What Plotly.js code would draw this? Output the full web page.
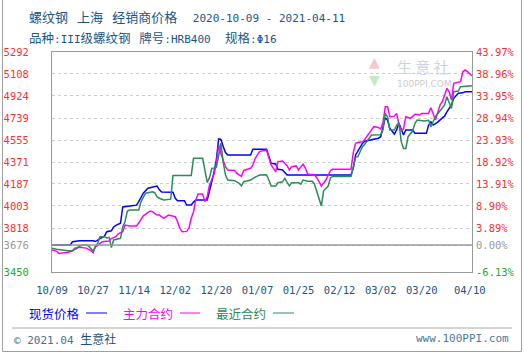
<!DOCTYPE html>
<html><head><meta charset="utf-8">
<script src="https://cdn.plot.ly/plotly-3.0.1.min.js"></script>
<style>html,body{margin:0;padding:0;background:#fff;}#chart{width:524px;height:354px;}</style>
</head><body><div id="chart"></div>
<script>
// ---------- data ----------
const basePrice = 3676;
const priceTicks = [3450, 3676, 3818, 4003, 4187, 4371, 4555, 4739, 4924, 5108, 5292];
const pctLabels = ['-6.13%', '0.00%', '3.89%', '8.90%', '13.91%', '18.92%', '23.93%', '28.94%', '33.95%', '38.96%', '43.97%'];
const xTickDates = ['2020-10-09','2020-10-27','2020-11-14','2020-12-02','2020-12-20','2021-01-07','2021-01-25','2021-02-12','2021-03-02','2021-03-20','2021-04-10'];
const xTickLabels = ['10/09','10/27','11/14','12/02','12/20','01/07','01/25','02/12','03/02','03/20','04/10'];
const xGridDates = ['2020-10-27','2020-11-14','2020-12-02','2020-12-20','2021-01-07','2021-01-25','2021-02-12','2021-03-02','2021-03-20'];
const seriesNames = ['现货价格', '主力合约', '最近合约'];

const spotDates = ['2020-10-09','2020-10-17','2020-10-18','2020-10-21','2020-10-27','2020-10-28','2020-10-30','2020-11-01','2020-11-02','2020-11-04','2020-11-05','2020-11-06','2020-11-08','2020-11-09','2020-11-13','2020-11-15','2020-11-16','2020-11-17','2020-11-18','2020-11-20','2020-11-22','2020-11-24','2020-11-25','2020-11-26','2020-12-01','2020-12-02','2020-12-03','2020-12-06','2020-12-07','2020-12-09','2020-12-10','2020-12-11','2020-12-16','2020-12-17','2020-12-18','2020-12-19','2020-12-20','2020-12-21','2020-12-22','2020-12-23','2020-12-24','2020-12-25','2021-01-04','2021-01-05','2021-01-11','2021-01-12','2021-01-13','2021-01-15','2021-01-16','2021-01-18','2021-01-20','2021-02-17','2021-02-18','2021-02-19','2021-02-20','2021-02-22','2021-02-23','2021-02-26','2021-03-01','2021-03-02','2021-03-03','2021-03-04','2021-03-05','2021-03-06','2021-03-08','2021-03-09','2021-03-10','2021-03-11','2021-03-12','2021-03-13','2021-03-16','2021-03-17','2021-03-22','2021-03-23','2021-03-24','2021-03-25','2021-03-26','2021-03-27','2021-03-29','2021-03-30','2021-03-31','2021-04-01','2021-04-02','2021-04-03','2021-04-05','2021-04-07','2021-04-08','2021-04-11'];
const spotPrices = [3676,3676,3703,3712,3712,3705,3730,3750,3787,3795,3827,3840,3858,3995,4005,4010,4040,4075,4110,4151,4160,4170,4140,4120,4117,4067,4047,4047,4011,4011,4035,4053,4053,4122,4206,4290,4388,4564,4560,4500,4450,4430,4430,4477,4477,4420,4360,4355,4310,4305,4262,4262,4320,4430,4460,4527,4545,4555,4570,4583,4667,4742,4720,4653,4605,4640,4695,4640,4597,4639,4639,4611,4611,4681,4708,4680,4690,4705,4740,4755,4790,4820,4848,4904,4946,4950,4960,4960];

const mainDates = ['2020-10-09','2020-10-11','2020-10-12','2020-10-15','2020-10-16','2020-10-18','2020-10-19','2020-10-21','2020-10-24','2020-10-26','2020-10-27','2020-10-28','2020-10-29','2020-10-30','2020-10-31','2020-11-03','2020-11-04','2020-11-06','2020-11-07','2020-11-09','2020-11-10','2020-11-12','2020-11-15','2020-11-16','2020-11-17','2020-11-18','2020-11-20','2020-11-21','2020-11-22','2020-11-24','2020-11-25','2020-11-27','2020-11-29','2020-12-01','2020-12-02','2020-12-03','2020-12-04','2020-12-05','2020-12-07','2020-12-08','2020-12-09','2020-12-10','2020-12-11','2020-12-12','2020-12-14','2020-12-15','2020-12-16','2020-12-17','2020-12-18','2020-12-19','2020-12-20','2020-12-21','2020-12-22','2020-12-23','2020-12-24','2020-12-25','2020-12-28','2020-12-29','2020-12-31','2021-01-01','2021-01-04','2021-01-05','2021-01-06','2021-01-07','2021-01-08','2021-01-11','2021-01-12','2021-01-13','2021-01-15','2021-01-16','2021-01-18','2021-01-20','2021-01-21','2021-01-22','2021-01-24','2021-01-25','2021-01-26','2021-01-27','2021-01-28','2021-01-29','2021-02-01','2021-02-02','2021-02-03','2021-02-04','2021-02-05','2021-02-06','2021-02-07','2021-02-08','2021-02-09','2021-02-17','2021-02-18','2021-02-19','2021-02-20','2021-02-22','2021-02-23','2021-02-24','2021-02-25','2021-02-26','2021-02-27','2021-03-01','2021-03-02','2021-03-03','2021-03-04','2021-03-05','2021-03-06','2021-03-08','2021-03-09','2021-03-10','2021-03-11','2021-03-12','2021-03-13','2021-03-15','2021-03-17','2021-03-19','2021-03-20','2021-03-23','2021-03-24','2021-03-25','2021-03-26','2021-03-28','2021-03-29','2021-03-30','2021-03-31','2021-04-01','2021-04-02','2021-04-03','2021-04-06','2021-04-07','2021-04-08','2021-04-09','2021-04-11'];
const mainPrices = [3634,3625,3606,3610,3615,3626,3650,3657,3650,3630,3612,3662,3670,3690,3704,3710,3730,3746,3770,3787,3843,3835,3835,3860,3885,3920,3947,3961,3955,3927,3927,3899,3927,3915,3913,3871,3816,3787,3790,3816,3900,3955,4053,4103,4103,4039,4081,4178,4220,4270,4360,4513,4440,4390,4332,4304,4300,4276,4250,4300,4318,4345,4400,4430,4460,4471,4415,4346,4290,4374,4380,4340,4304,4332,4338,4304,4330,4352,4320,4270,4262,4240,4206,4170,4195,4220,4262,4300,4310,4310,4450,4527,4535,4541,4560,4590,4611,4640,4667,4660,4647,4700,4834,4834,4750,4755,4778,4681,4639,4647,4750,4737,4770,4764,4778,4778,4826,4764,4723,4848,4876,4930,4988,4960,4890,5030,5044,5127,5141,5127,5094];

const nearDates = ['2020-10-09','2020-10-11','2020-10-16','2020-10-18','2020-10-20','2020-10-21','2020-10-23','2020-10-24','2020-10-25','2020-10-26','2020-10-27','2020-10-28','2020-10-29','2020-10-30','2020-11-01','2020-11-02','2020-11-03','2020-11-04','2020-11-05','2020-11-08','2020-11-09','2020-11-10','2020-11-11','2020-11-12','2020-11-16','2020-11-17','2020-11-18','2020-11-19','2020-11-20','2020-11-22','2020-11-23','2020-11-24','2020-11-25','2020-11-26','2020-11-27','2020-11-30','2020-12-01','2020-12-09','2020-12-10','2020-12-14','2020-12-15','2020-12-16','2020-12-17','2020-12-18','2020-12-19','2020-12-20','2020-12-21','2020-12-22','2020-12-23','2020-12-24','2020-12-25','2020-12-28','2020-12-30','2020-12-31','2021-01-01','2021-01-04','2021-01-06','2021-01-08','2021-01-10','2021-01-11','2021-01-12','2021-01-13','2021-01-15','2021-01-16','2021-01-18','2021-01-19','2021-01-20','2021-01-21','2021-01-22','2021-01-25','2021-01-26','2021-01-27','2021-01-29','2021-01-31','2021-02-01','2021-02-02','2021-02-03','2021-02-04','2021-02-05','2021-02-06','2021-02-07','2021-02-08','2021-02-09','2021-02-17','2021-02-18','2021-02-19','2021-02-20','2021-02-22','2021-02-23','2021-02-25','2021-02-26','2021-03-02','2021-03-03','2021-03-04','2021-03-05','2021-03-06','2021-03-08','2021-03-09','2021-03-10','2021-03-11','2021-03-12','2021-03-13','2021-03-14','2021-03-16','2021-03-17','2021-03-18','2021-03-21','2021-03-23','2021-03-24','2021-03-25','2021-03-26','2021-03-27','2021-03-29','2021-03-30','2021-03-31','2021-04-01','2021-04-02','2021-04-03','2021-04-05','2021-04-06','2021-04-11'];
const nearPrices = [3648,3640,3628,3630,3648,3668,3676,3676,3668,3648,3625,3662,3690,3746,3746,3735,3740,3655,3718,3732,3829,3871,3960,3969,3969,4040,4080,4110,4114,4122,4114,4081,4067,4061,4053,4060,4258,4258,4402,4402,4300,4200,4240,4318,4320,4325,4420,4530,4370,4262,4220,4215,4193,4170,4206,4220,4245,4262,4265,4262,4220,4170,4170,4198,4205,4234,4200,4170,4198,4198,4185,4220,4210,4210,4185,4130,4070,4003,4130,4150,4170,4240,4250,4250,4340,4410,4415,4499,4520,4569,4597,4600,4640,4778,4750,4639,4639,4680,4700,4541,4485,4485,4583,4630,4695,4723,4715,4720,4667,4710,4750,4775,4820,4848,4918,4870,4820,4960,4965,5002,5010];

// ---------- geometry helpers (decorations only) ----------
const L = 52, R = 472, T = 52, B = 272;
const px = x => (x - L) / (R - L);
const py = y => (B - y) / (B - T);

const red = '#ff3030', gray = '#999999', green = '#22aa22';
const colorFor = i => i === 0 ? green : (i === 1 ? gray : red);
const leftText = priceTicks.map((v, i) => `<span style="color:${colorFor(i)}">${v}</span>`);
const rightText = pctLabels.map((v, i) => `<span style="color:${colorFor(i)}">${v}</span>`);

const lineColors = ['#0000ff', '#ff00ff', '#2e8b57'];
const traces = [
  {x: spotDates, y: spotPrices, name: seriesNames[0]},
  {x: mainDates, y: mainPrices, name: seriesNames[1]},
  {x: nearDates, y: nearPrices, name: seriesNames[2]}
].map((t, i) => Object.assign(t, {type: 'scatter', mode: 'lines', line: {color: lineColors[i], width: 1.5}, hoverinfo: 'skip'}));
traces.push({x: [xTickDates[0]], y: [basePrice], yaxis: 'y2', type: 'scatter', mode: 'markers', marker: {opacity: 0}, hoverinfo: 'skip', showlegend: false});

const mono = 'DejaVu Sans Mono';
const cjk = 'Noto Sans CJK SC';
const titleColor = '#1a5585';
const gap = '\u2002\u2009';
const c = (t, s) => `<span style="font-family:${cjk};font-size:${s}px">${t}</span>`;
const m = (t, s) => `<span style="font-family:${mono};font-size:${s}px">${t}</span>`;

const annotations = [
  {x: px(27), y: py(16), xanchor: 'left', yanchor: 'middle',
   text: c('螺纹钢' + gap + '上海' + gap + '经销商价格', 13) + gap + m('2020-10-09 - 2021-04-11', 11),
   font: {color: titleColor, size: 13}},
  {x: px(27), y: py(37), xanchor: 'left', yanchor: 'middle',
   text: c('品种', 12.5) + m(':III', 11) + c('级螺纹钢' + gap + '牌号', 12.5) + m(':HRB400', 11) + gap + c('规格', 12.5) + m(':Φ16', 11),
   font: {color: titleColor, size: 12}},
  // legend
  {x: px(27), y: py(313), xanchor: 'left', yanchor: 'middle', text: seriesNames[0], font: {family: cjk, size: 12.5, color: lineColors[0]}},
  {x: px(121), y: py(313), xanchor: 'left', yanchor: 'middle', text: seriesNames[1], font: {family: cjk, size: 12.5, color: lineColors[1]}},
  {x: px(214), y: py(313), xanchor: 'left', yanchor: 'middle', text: seriesNames[2], font: {family: cjk, size: 12.5, color: lineColors[2]}},
  // footer
  {x: px(12), y: py(338), xanchor: 'left', yanchor: 'middle',
   text: `<span style="font-family:${mono};font-size:11px;fill:#4a7090">© 2021.04 </span>` + c('生意社', 12),
   font: {color: '#1a5080', size: 12}},
  {x: px(511), y: py(338), xanchor: 'right', yanchor: 'middle', text: 'www.100PPI.com', font: {family: mono, size: 11, color: '#4a7a9a'}},
  // watermark
  {x: px(374), y: py(62), xanchor: 'center', yanchor: 'middle', text: '▲', font: {family: 'DejaVu Sans', size: 14, color: '#f6c8c8'}},
  {x: px(374), y: py(80), xanchor: 'center', yanchor: 'middle', text: '▼', font: {family: 'DejaVu Sans', size: 14, color: '#c6eac6'}},
  {x: px(423), y: py(66), xanchor: 'center', yanchor: 'middle', text: '生 意 社', font: {family: cjk, size: 15, color: '#cdd3e3'}},
  {x: px(424), y: py(84), xanchor: 'center', yanchor: 'middle', text: '100PPI.COM', font: {family: 'DejaVu Sans', size: 9, color: '#cccccc'}}
];
annotations.forEach(a => { a.xref = 'paper'; a.yref = 'paper'; a.showarrow = false; });

const shapes = [
  {type: 'line', xref: 'paper', yref: 'y', x0: 0, x1: 1, y0: basePrice, y1: basePrice, line: {color: '#999999', width: 1.5}},
  // legend line keys
  {type: 'line', xref: 'paper', yref: 'paper', x0: px(86), x1: px(107), y0: py(313), y1: py(313), line: {color: lineColors[0], width: 1}},
  {type: 'line', xref: 'paper', yref: 'paper', x0: px(180), x1: px(200), y0: py(313), y1: py(313), line: {color: lineColors[1], width: 1}},
  {type: 'line', xref: 'paper', yref: 'paper', x0: px(273), x1: px(294), y0: py(313), y1: py(313), line: {color: lineColors[2], width: 1}},
  // footer separator
  {type: 'line', xref: 'paper', yref: 'paper', x0: px(12), x1: px(512), y0: py(328), y1: py(328), line: {color: '#aaaaaa', width: 1}},
  // outer frame
  {type: 'line', xref: 'paper', yref: 'paper', x0: px(2.5), x1: px(2.5), y0: py(0), y1: py(351.5), line: {color: '#a0a0a0', width: 1}},
  {type: 'line', xref: 'paper', yref: 'paper', x0: px(521.5), x1: px(521.5), y0: py(0), y1: py(351.5), line: {color: '#a0a0a0', width: 1}},
  {type: 'line', xref: 'paper', yref: 'paper', x0: px(2.5), x1: px(521.5), y0: py(351.5), y1: py(351.5), line: {color: '#a0a0a0', width: 1}}
];

const xRange = ['2020-10-09', '2021-04-11'];
const yRange = [priceTicks[0], priceTicks[priceTicks.length - 1]];

const layout = {
  width: 524, height: 354,
  margin: {l: L, r: 524 - R, t: T, b: 354 - B, pad: 0},
  paper_bgcolor: '#ffffff', plot_bgcolor: '#ffffff',
  showlegend: false,
  font: {family: mono, size: 10},
  xaxis: {type: 'date', range: xRange, tickmode: 'array', tickvals: xTickDates, ticktext: xTickLabels,
          showgrid: false, zeroline: false, showline: true, mirror: true, linecolor: '#999999', linewidth: 1,
          ticks: '', ticklabelstandoff: 8, tickfont: {family: mono, size: 10.5, color: '#1a5585'}, fixedrange: true},
  xaxis2: {type: 'date', range: xRange, overlaying: 'x', anchor: 'y', tickmode: 'array', tickvals: xGridDates,
           showticklabels: false, showgrid: true, gridcolor: '#cccccc', griddash: '3px,3px', gridwidth: 1, zeroline: false, showline: false, ticks: ''},
  yaxis: {range: yRange, tickmode: 'array', tickvals: priceTicks, ticktext: leftText,
          showgrid: true, gridcolor: '#cccccc', griddash: '3px,3px', gridwidth: 1, zeroline: false,
          showline: true, mirror: true, linecolor: '#999999', linewidth: 1,
          ticks: '', ticklabelstandoff: 20, tickfont: {family: mono, size: 10.5}, fixedrange: true},
  yaxis2: {range: yRange, overlaying: 'y', side: 'right', anchor: 'x', tickmode: 'array', tickvals: priceTicks, ticktext: rightText,
           showgrid: false, zeroline: false, showline: false, ticks: '', ticklabelstandoff: 3, tickfont: {family: mono, size: 10.5}},
  annotations: annotations,
  shapes: shapes
};

Plotly.newPlot('chart', traces, layout, {staticPlot: true, displayModeBar: false});
</script></body></html>
